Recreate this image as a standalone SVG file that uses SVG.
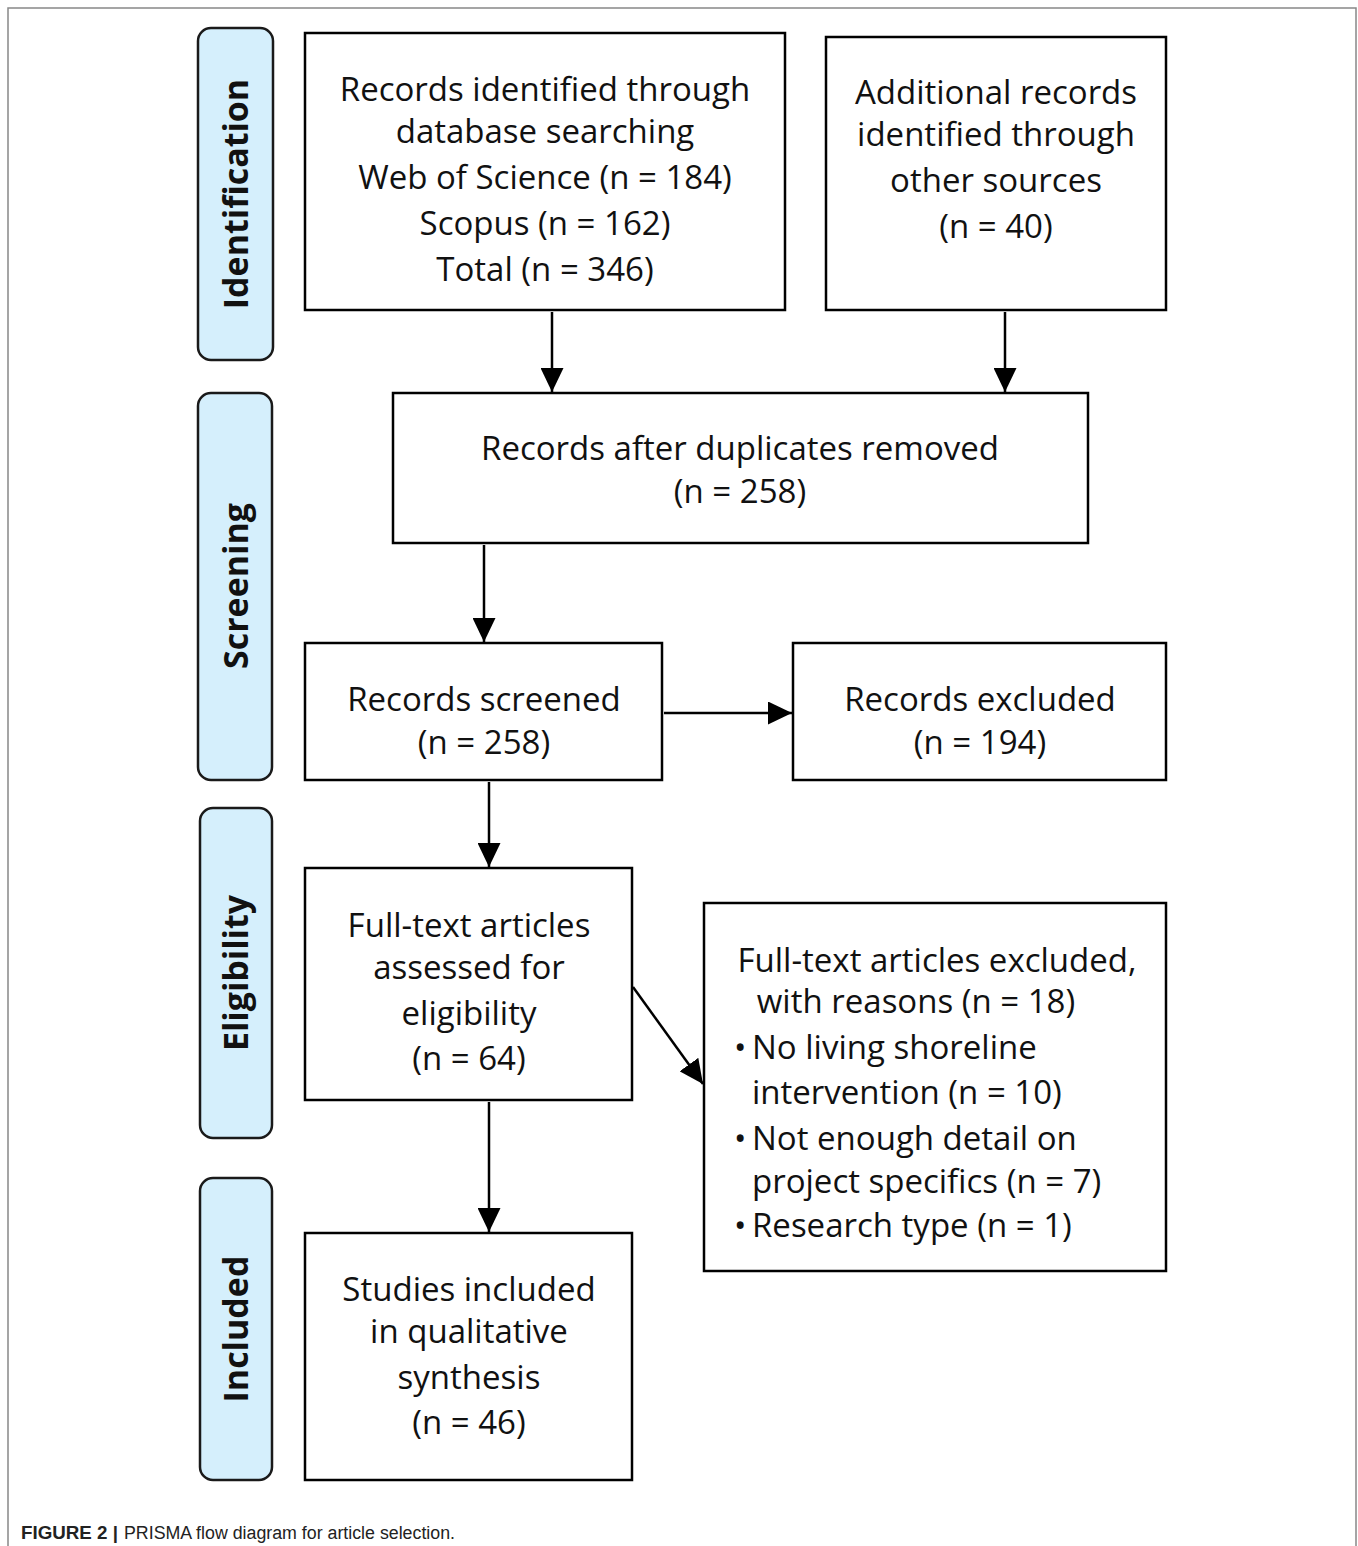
<svg xmlns="http://www.w3.org/2000/svg" width="1358" height="1546" viewBox="0 0 1358 1546">
<style>
.box{fill:#fff;stroke:#000;stroke-width:2.5}
.phase{fill:#d5effc;stroke:#1a1a1a;stroke-width:2.5}
.t{font-family:"Open Sans","Noto Sans",sans-serif;font-size:33px;fill:#111;text-anchor:middle}
.tl{font-family:"Open Sans","Noto Sans",sans-serif;font-size:33px;fill:#111}
.p{font-family:"Open Sans","Noto Sans",sans-serif;font-size:34px;font-weight:bold;fill:#111;text-anchor:middle}
.c{stroke:#000;stroke-width:2.5;fill:none;marker-end:url(#ah)}
.cap{font-family:"Liberation Sans",Arial,sans-serif;font-size:18px;fill:#222}
</style>
<defs>
<marker id="ah" markerWidth="24" markerHeight="23" refX="24" refY="11.5" orient="auto" markerUnits="userSpaceOnUse" viewBox="0 0 24 23">
<path d="M0,0 L24,11.5 L0,23 z" fill="#000"/>
</marker>
</defs>
<rect width="1358" height="1546" fill="#fff"/>
<path d="M8,1546 V8 H1356 V1546" fill="none" stroke="#888" stroke-width="1.5"/>

<g id="phase-identification"><rect class="phase" x="198" y="28" width="75" height="332" rx="13"/><text class="p" transform="translate(248,194) rotate(-90)">Identification</text></g>
<g id="phase-screening"><rect class="phase" x="198" y="393" width="74" height="387" rx="13"/><text class="p" transform="translate(248,586) rotate(-90)">Screening</text></g>
<g id="phase-eligibility"><rect class="phase" x="200" y="808" width="72" height="330" rx="13"/><text class="p" transform="translate(248,973) rotate(-90)">Eligibility</text></g>
<g id="phase-included"><rect class="phase" x="200" y="1178" width="72" height="302" rx="13"/><text class="p" transform="translate(248,1329) rotate(-90)">Included</text></g>

<g id="connectors">
<path class="c" d="M552,312 V392"/>
<path class="c" d="M1005,312 V392"/>
<path class="c" d="M484,545 V642"/>
<path class="c" d="M664,713 H792"/>
<path class="c" d="M489,782 V867"/>
<path class="c" d="M633,987 L703,1084"/>
<path class="c" d="M489,1102 V1232"/>
</g>

<g id="n-db"><rect class="box" x="305" y="33" width="480" height="277"/>
<text class="t" x="545" y="101">Records identified through</text>
<text class="t" x="545" y="143">database searching</text>
<text class="t" x="545" y="189">Web of Science (n = 184)</text>
<text class="t" x="545" y="235">Scopus (n = 162)</text>
<text class="t" x="545" y="281">Total (n = 346)</text></g>

<g id="n-other"><rect class="box" x="826" y="37" width="340" height="273"/>
<text class="t" x="996" y="104">Additional records</text>
<text class="t" x="996" y="146">identified through</text>
<text class="t" x="996" y="192">other sources</text>
<text class="t" x="996" y="238">(n = 40)</text></g>

<g id="n-dup"><rect class="box" x="393" y="393" width="695" height="150"/>
<text class="t" x="740" y="460">Records after duplicates removed</text>
<text class="t" x="740" y="503">(n = 258)</text></g>

<g id="n-screened"><rect class="box" x="305" y="643" width="357" height="137"/>
<text class="t" x="484" y="711">Records screened</text>
<text class="t" x="484" y="754">(n = 258)</text></g>

<g id="n-excluded"><rect class="box" x="793" y="643" width="373" height="137"/>
<text class="t" x="980" y="711">Records excluded</text>
<text class="t" x="980" y="754">(n = 194)</text></g>

<g id="n-fulltext"><rect class="box" x="305" y="868" width="327" height="232"/>
<text class="t" x="469" y="937">Full-text articles</text>
<text class="t" x="469" y="979">assessed for</text>
<text class="t" x="469" y="1025">eligibility</text>
<text class="t" x="469" y="1070">(n = 64)</text></g>

<g id="n-ftexcluded"><rect class="box" x="704" y="903" width="462" height="368"/>
<text class="t" x="937" y="972">Full-text articles excluded,</text>
<text class="t" x="916" y="1013">with reasons (n = 18)</text>
<text class="tl" x="734" y="1059" font-size="26">•</text><text class="tl" x="752" y="1059">No living shoreline</text>
<text class="tl" x="752" y="1104">intervention (n = 10)</text>
<text class="tl" x="734" y="1150" font-size="26">•</text><text class="tl" x="752" y="1150">Not enough detail on</text>
<text class="tl" x="752" y="1193">project specifics (n = 7)</text>
<text class="tl" x="734" y="1237" font-size="26">•</text><text class="tl" x="752" y="1237">Research type (n = 1)</text></g>

<g id="n-included"><rect class="box" x="305" y="1233" width="327" height="247"/>
<text class="t" x="469" y="1301">Studies included</text>
<text class="t" x="469" y="1343">in qualitative</text>
<text class="t" x="469" y="1389">synthesis</text>
<text class="t" x="469" y="1434">(n = 46)</text></g>

<g id="caption">
<text class="cap" x="21" y="1539" font-weight="bold" textLength="97" lengthAdjust="spacingAndGlyphs">FIGURE 2 |</text>
<text class="cap" x="124" y="1539" textLength="331" lengthAdjust="spacingAndGlyphs">PRISMA flow diagram for article selection.</text>
</g>
</svg>
